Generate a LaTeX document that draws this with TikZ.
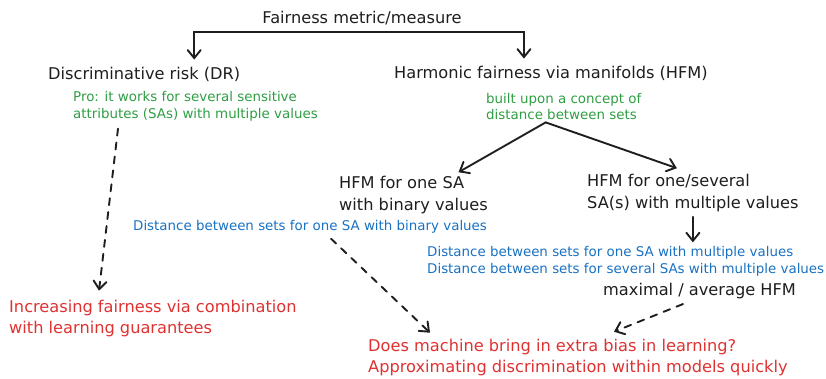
\documentclass[tikz,border=0pt]{standalone}
\usepackage{fontspec}
\setmainfont{DejaVu Sans}
\usetikzlibrary{arrows.meta}
\definecolor{ink}{HTML}{1E1E1E}
\definecolor{xgreen}{HTML}{2F9E44}
\definecolor{xblue}{HTML}{1971C2}
\definecolor{xred}{HTML}{E03131}
\tikzset{
  main/.style={font=\fontsize{16.2}{21.5}\selectfont, inner sep=0pt, align=left, text=ink, anchor=west},
  note/.style={font=\fontsize{13.4}{17}\selectfont, inner sep=0pt, align=left, anchor=west},
  conn/.style={draw=ink, line width=1.9pt, line cap=round, -{Straight Barb[length=8pt,width=13pt,line cap=round]}},
  dconn/.style={conn, dash pattern=on 7pt off 7pt},
}
\begin{document}
\begin{tikzpicture}[x=1pt,y=-1pt]
\useasboundingbox (0,0) rectangle (826,378);
\node[main, anchor=center] (title) at (362,18) {Fairness metric/measure};
\node[main] (dr) at (48,74) {Discriminative risk (DR)};
\node[main] (hfm) at (394,73) {Harmonic fairness via manifolds (HFM)};
\node[note, text=xgreen] (pro) at (73,106.5) {Pro: it works for several sensitive\\attributes (SAs) with multiple values};
\node[note, text=xgreen] (built) at (486,106.5) {built upon a concept of\\distance between sets};
\node[main] (one) at (339,195) {HFM for one SA\\with binary values};
\node[main] (multi) at (587,193) {HFM for one/several\\SA(s) with multiple values};
\node[note, text=xblue] (bbin) at (133,227) {Distance between sets for one SA with binary values};
\node[note, text=xblue] (bmulti) at (427,261.5) {Distance between sets for one SA with multiple values\\Distance between sets for several SAs with multiple values};
\node[main] (maxav) at (603,291) {maximal / average HFM};
\node[main, text=xred] (red1) at (9,318.5) {Increasing fairness via combination\\with learning guarantees};
\node[main, text=xred] (red2) at (368,357.5) {Does machine bring in extra bias in learning?\\Approximating discrimination within models quickly};
\coordinate (split) at (362,32);
\draw[conn] (split) -| ([xshift=50pt,yshift=7pt]dr.north);
\draw[conn] (split) -| ([xshift=-27pt,yshift=7pt]hfm.north);
\draw[conn] ([xshift=-18pt,yshift=-2pt]built.south) -- ([xshift=45pt,yshift=4pt]one.north);
\draw[conn] ([xshift=-18pt,yshift=-2pt]built.south) -- ([xshift=-16pt,yshift=6pt]multi.north);
\draw[conn, shorten <=5pt, shorten >=4pt] (multi.south) -- (multi.south |- bmulti.north);
\draw[dconn] ([xshift=45pt,yshift=-7pt]pro.south west) -- ([xshift=90pt,yshift=9pt]red1.north west);
\draw[dconn] ([xshift=198pt,yshift=-5pt]bbin.south west) -- ([xshift=62pt,yshift=6pt]red2.north west);
\draw[dconn] ([xshift=80pt,yshift=-5pt]maxav.south west) -- ([xshift=246pt,yshift=7pt]red2.north west);
\end{tikzpicture}
\end{document}
